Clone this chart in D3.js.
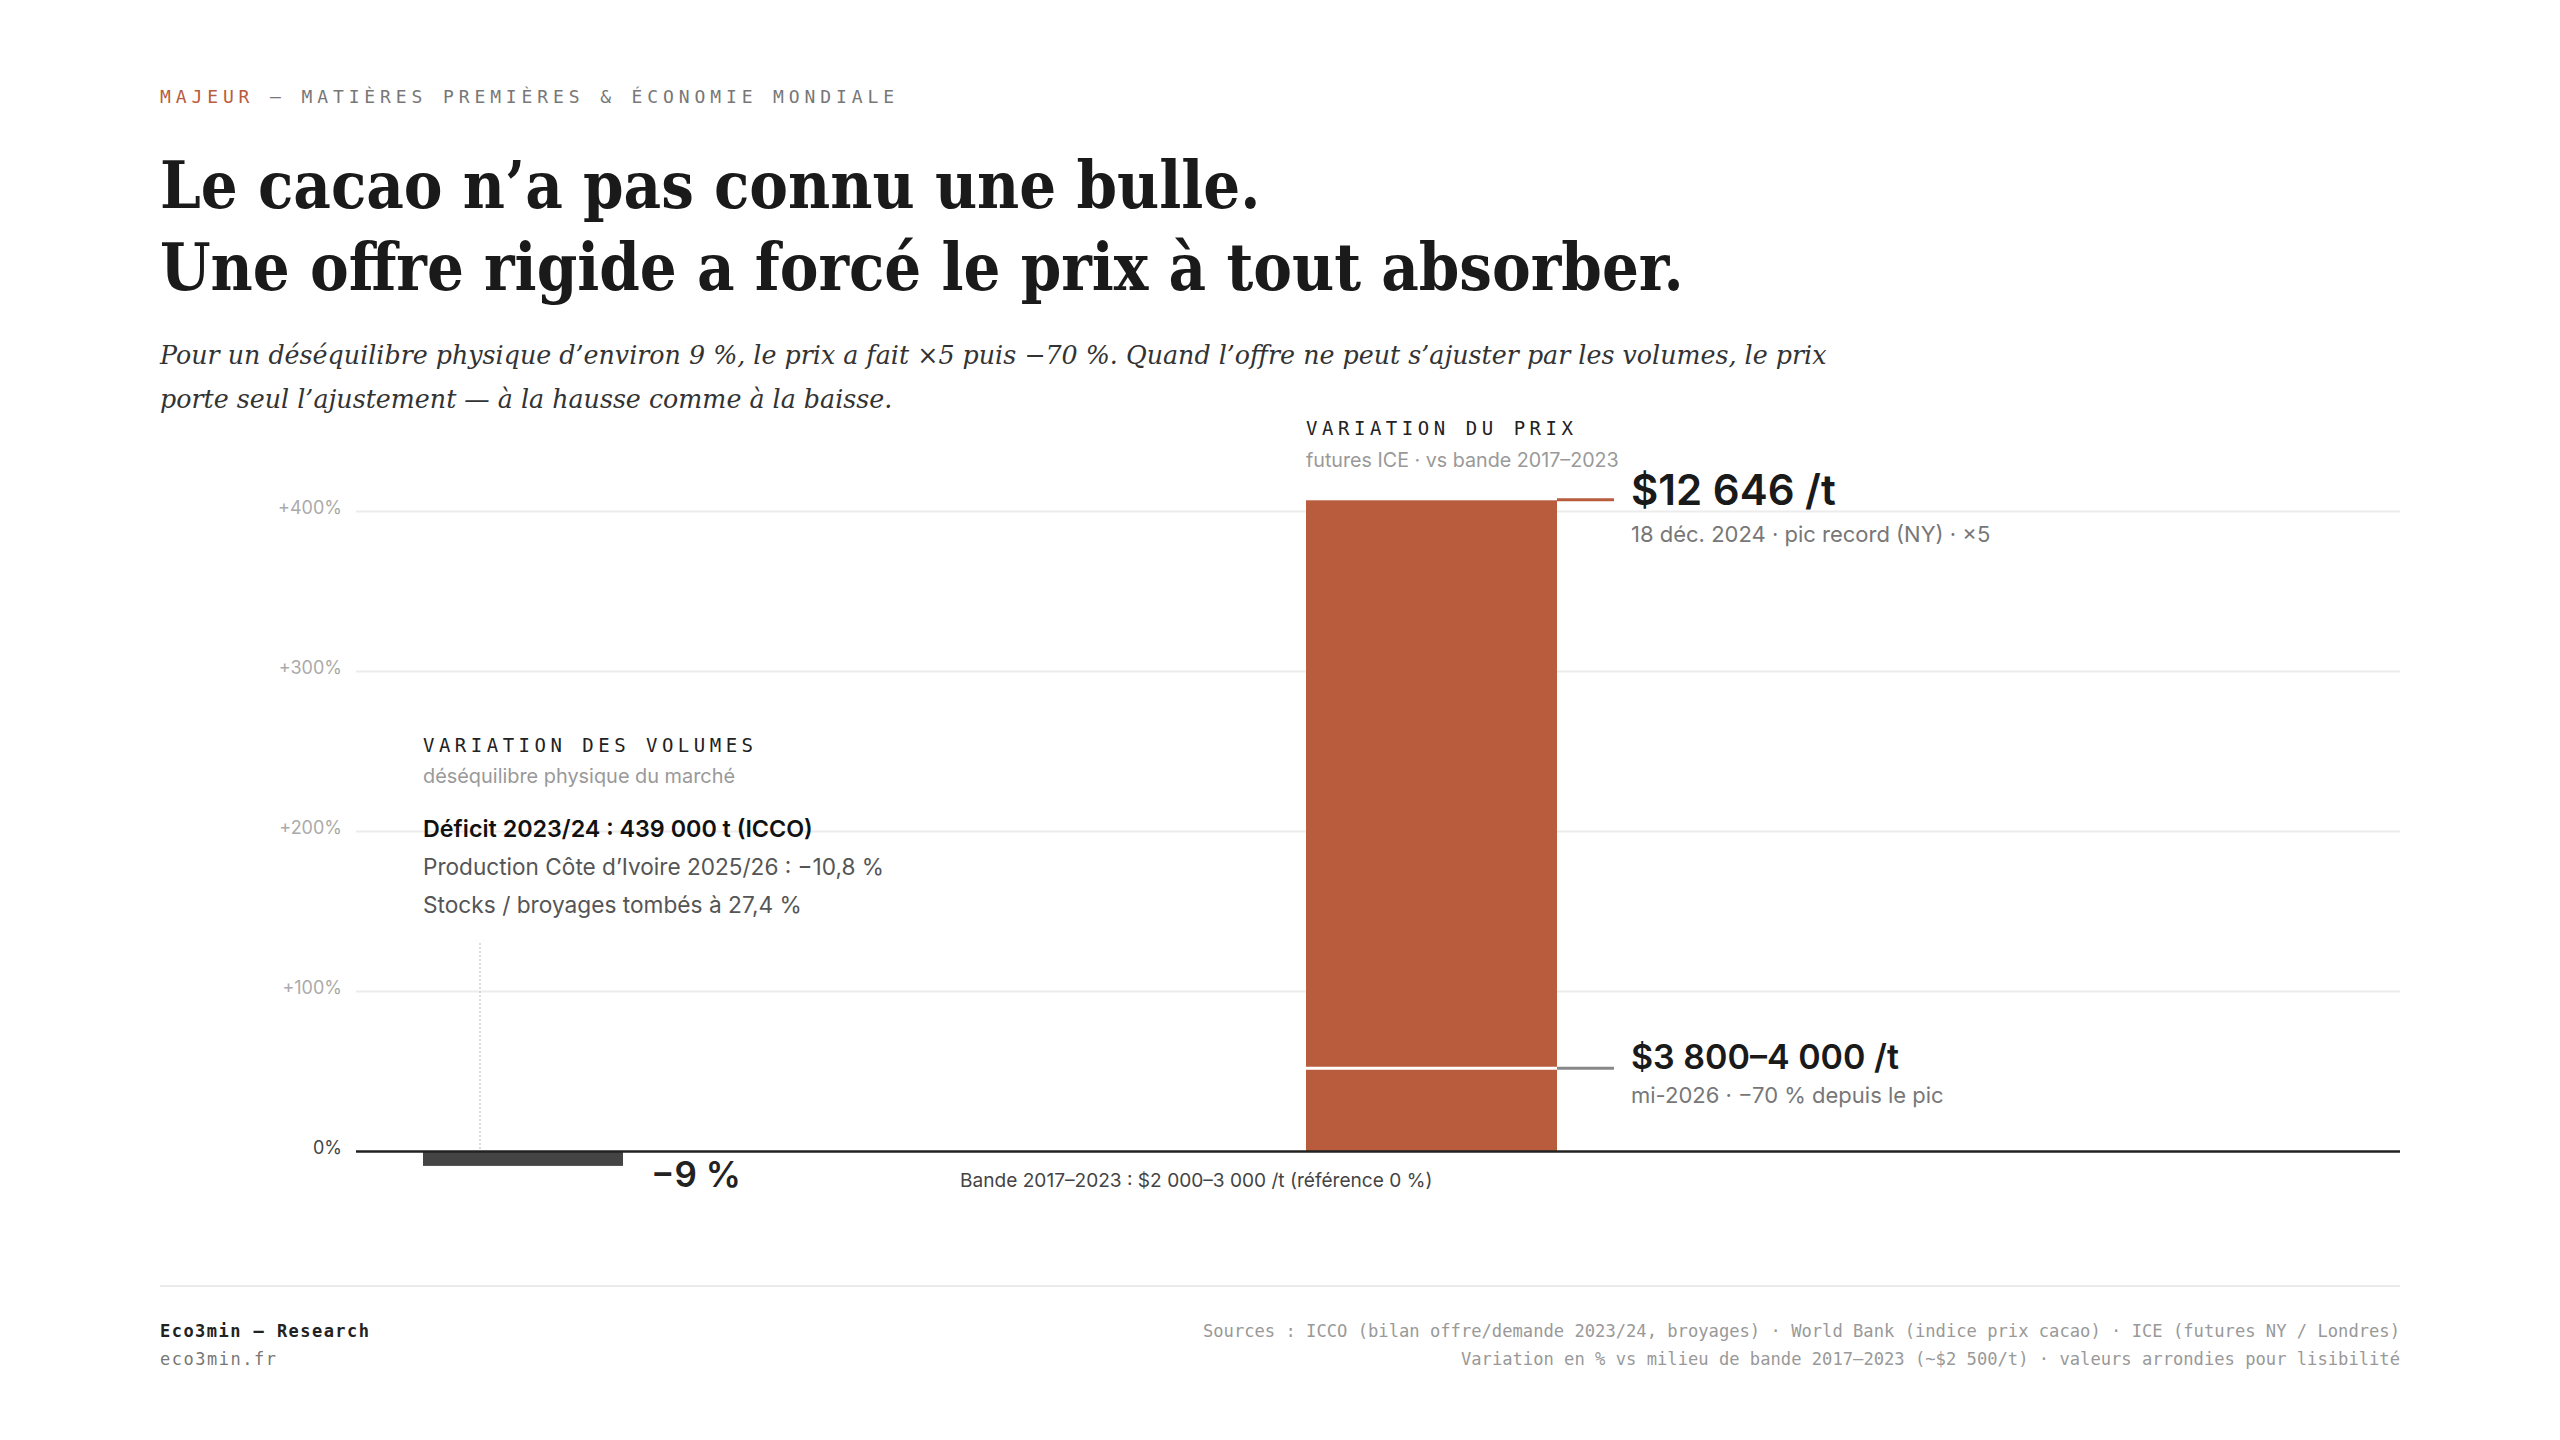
<!DOCTYPE html>
<html>
<head>
<meta charset="utf-8">
<script src="https://cdn.jsdelivr.net/npm/d3@7"></script>
<style>
  html, body { margin: 0; padding: 0; background: #ffffff; }
  svg { display: block; }
</style>
</head>
<body>
<svg id="chart" width="2560" height="1440"></svg>
<script>
// ---------- DATA ----------
const categories = ["volumes", "prix"];
const values = [-9, 407];            // % vs milieu de bande 2017–2023
const afterFall = [52];              // niveau mi-2026 (% vs bande)
const yTicks = [0, 100, 200, 300, 400];
const tickLabels = ["0%", "+100%", "+200%", "+300%", "+400%"];

const kicker = ["MAJEUR", " — MATIÈRES PREMIÈRES & ÉCONOMIE MONDIALE"];
const titleLines = ["Le cacao n’a pas connu une bulle.", "Une offre rigide a forcé le prix à tout absorber."];
const subtitleLines = [
  "Pour un déséquilibre physique d’environ 9 %, le prix a fait ×5 puis −70 %. Quand l’offre ne peut s’ajuster par les volumes, le prix",
  "porte seul l’ajustement — à la hausse comme à la baisse."
];
const volHead = ["VARIATION DES VOLUMES", "déséquilibre physique du marché"];
const volNotes = ["Déficit 2023/24 : 439 000 t (ICCO)", "Production Côte d’Ivoire 2025/26 : −10,8 %", "Stocks / broyages tombés à 27,4 %"];
const volLabel = "−9 %";
const priceHead = ["VARIATION DU PRIX", "futures ICE · vs bande 2017–2023"];
const peakLabel = ["$12 646 /t", "18 déc. 2024 · pic record (NY) · ×5"];
const lowLabel = ["$3 800–4 000 /t", "mi-2026 · −70 % depuis le pic"];
const bandNote = "Bande 2017–2023 : $2 000–3 000 /t (référence 0 %)";
const footLeft = ["Eco3min — Research", "eco3min.fr"];
const footRight = [
  "Sources : ICCO (bilan offre/demande 2023/24, broyages) · World Bank (indice prix cacao) · ICE (futures NY / Londres)",
  "Variation en % vs milieu de bande 2017–2023 (~$2 500/t) · valeurs arrondies pour lisibilité"
];

// ---------- LAYOUT ----------
const ORANGE = "#B95C3D";
const SANS = "Inter, 'Noto Sans', sans-serif";
const SERIF = "'DejaVu Serif', serif";
const TITLE_SERIF = "'DejaVu Serif Condensed', 'DejaVu Serif', serif";
const MONO = "'DejaVu Sans Mono', 'Liberation Mono', monospace";
const L = 160, R = 2400, plotL = 356;

const svg = d3.select("#chart");
svg.append("rect").attr("width", 2560).attr("height", 1440).attr("fill", "#fff");

function fitSize(sel, target) {
  const w = sel.node().getComputedTextLength();
  const fs = parseFloat(sel.attr("font-size"));
  const nfs = fs * target / w;
  sel.attr("font-size", nfs);
  return nfs;
}
function fitSpacing(sel, target) {
  sel.attr("letter-spacing", 0);
  const w = sel.node().getComputedTextLength();
  const n = sel.text().length;
  sel.attr("letter-spacing", (target - w) / (n - 1));
}

// Kicker
const k = svg.append("text").attr("x", L).attr("y", 103)
  .attr("font-family", MONO).attr("font-size", 18).attr("fill", "#777");
k.append("tspan").attr("fill", ORANGE).text(kicker[0]);
k.append("tspan").text(kicker[1]);
fitSpacing(k, 734);

// Title
const t2 = svg.append("text").attr("x", L).attr("y", 290)
  .attr("font-family", TITLE_SERIF).attr("font-weight", 700).attr("font-size", 60)
  .attr("fill", "#1a1a1a").text(titleLines[1]);
const tfs = fitSize(t2, 1524);
svg.append("text").attr("x", L).attr("y", 208)
  .attr("font-family", TITLE_SERIF).attr("font-weight", 700).attr("font-size", tfs)
  .attr("fill", "#1a1a1a").text(titleLines[0]);

// Subtitle
const s1 = svg.append("text").attr("x", L).attr("y", 364)
  .attr("font-family", SERIF).attr("font-style", "italic").attr("font-size", 24)
  .attr("fill", "#333").text(subtitleLines[0]);
const sfs = fitSize(s1, 1667);
svg.append("text").attr("x", L).attr("y", 408)
  .attr("font-family", SERIF).attr("font-style", "italic").attr("font-size", sfs)
  .attr("fill", "#333").text(subtitleLines[1]);

// ---------- SCALES ----------
const y = d3.scaleLinear().domain([0, 400]).range([1151.5, 511.5]);
const xLeft = d3.scalePoint().domain(categories).range([423, 1306]);
const barW = { volumes: 200, prix: 251 };
const barFill = { volumes: "#444444", prix: ORANGE };

// Grid
const grid = svg.append("g");
grid.selectAll("line").data(yTicks.filter(d => d !== 0)).join("line")
  .attr("x1", plotL).attr("x2", R)
  .attr("y1", d => y(d)).attr("y2", d => y(d))
  .attr("stroke", "#ececec").attr("stroke-width", 2);

// Y axis labels
const yAxis = d3.axisLeft(y).tickValues(yTicks).tickSize(0).tickPadding(0)
  .tickFormat((d, i) => tickLabels[i]);
const ga = svg.append("g").attr("transform", `translate(342,0)`).call(yAxis);
ga.select(".domain").remove();
ga.selectAll("text")
  .attr("font-family", SANS).attr("font-size", 18)
  .attr("fill", d => d === 0 ? "#444" : "#aaa")
  .attr("dy", "0.1em");

// Volume leader (dotted)
const volX = xLeft("volumes") + 57;
svg.append("line").attr("x1", volX).attr("x2", volX)
  .attr("y1", 943).attr("y2", y(0))
  .attr("stroke", "#c8c8c8").attr("stroke-width", 1.3).attr("stroke-dasharray", "2,2");

// Bars
const data = categories.map((c, i) => ({ c, v: values[i] }));
svg.append("g").selectAll("rect").data(data).join("rect")
  .attr("x", d => xLeft(d.c))
  .attr("width", d => barW[d.c])
  .attr("y", d => y(Math.max(0, d.v)))
  .attr("height", d => Math.abs(y(d.v) - y(0)))
  .attr("fill", d => barFill[d.c]);

// Price bar after-fall marker
const px0 = xLeft("prix"), px1 = xLeft("prix") + barW.prix;
svg.append("line").attr("x1", px0).attr("x2", px1)
  .attr("y1", y(afterFall[0])).attr("y2", y(afterFall[0]))
  .attr("stroke", "#fff").attr("stroke-width", 3);
svg.append("line").attr("x1", px1).attr("x2", px1 + 57)
  .attr("y1", y(afterFall[0])).attr("y2", y(afterFall[0]))
  .attr("stroke", "#888").attr("stroke-width", 3);
// Peak connector
svg.append("line").attr("x1", px1).attr("x2", px1 + 57)
  .attr("y1", y(values[1]) - 0.5).attr("y2", y(values[1]) - 0.5)
  .attr("stroke", ORANGE).attr("stroke-width", 3);

// Zero axis
svg.append("line").attr("x1", plotL).attr("x2", R)
  .attr("y1", y(0)).attr("y2", y(0))
  .attr("stroke", "#222").attr("stroke-width", 2.5);

// ---------- ANNOTATIONS ----------
const vx = xLeft("volumes");
const vh = svg.append("text").attr("x", vx).attr("y", 752)
  .attr("font-family", MONO).attr("font-size", 19).attr("fill", "#222").text(volHead[0]);
fitSpacing(vh, 330);
svg.append("text").attr("x", vx).attr("y", 783)
  .attr("font-family", SANS).attr("font-size", 19.9).attr("fill", "#999").text(volHead[1]);
const noteSizes = [23.3, 22.6, 22.7];
svg.selectAll(".vnote").data(volNotes).join("text").attr("class", "vnote")
  .attr("x", vx).attr("y", (d, i) => 837 + i * 38)
  .attr("font-family", SANS).attr("font-size", (d, i) => noteSizes[i])
  .attr("font-weight", (d, i) => i === 0 ? 600 : 400)
  .attr("fill", (d, i) => i === 0 ? "#111" : "#555")
  .text(d => d);
svg.append("text").attr("x", vx + barW.volumes + 28).attr("y", y(values[0]) + 21)
  .attr("font-family", SANS).attr("font-size", 35).attr("font-weight", 600)
  .attr("fill", "#222").text(volLabel);

const ph = svg.append("text").attr("x", px0).attr("y", 435)
  .attr("font-family", MONO).attr("font-size", 19).attr("fill", "#222").text(priceHead[0]);
fitSpacing(ph, 267);
svg.append("text").attr("x", px0).attr("y", 467)
  .attr("font-family", SANS).attr("font-size", 19.7).attr("fill", "#999").text(priceHead[1]);

const lx = px1 + 74;
svg.append("text").attr("x", lx).attr("y", y(values[1]) + 5)
  .attr("font-family", SANS).attr("font-size", 42).attr("font-weight", 600)
  .attr("fill", "#1a1a1a").text(peakLabel[0]);
svg.append("text").attr("x", lx).attr("y", y(values[1]) + 42)
  .attr("font-family", SANS).attr("font-size", 22).attr("fill", "#777").text(peakLabel[1]);
svg.append("text").attr("x", lx).attr("y", y(afterFall[0]) + 0.5)
  .attr("font-family", SANS).attr("font-size", 34).attr("font-weight", 600)
  .attr("fill", "#1a1a1a").text(lowLabel[0]);
svg.append("text").attr("x", lx).attr("y", y(afterFall[0]) + 35)
  .attr("font-family", SANS).attr("font-size", 22).attr("fill", "#777").text(lowLabel[1]);

svg.append("text").attr("x", 960).attr("y", y(0) + 35)
  .attr("font-family", SANS).attr("font-size", 19.1).attr("fill", "#444").text(bandNote);

// ---------- FOOTER ----------
svg.append("line").attr("x1", L).attr("x2", R).attr("y1", 1286).attr("y2", 1286)
  .attr("stroke", "#ebebeb").attr("stroke-width", 2);
const f1 = svg.append("text").attr("x", L).attr("y", 1337)
  .attr("font-family", MONO).attr("font-size", 17).attr("font-weight", 700)
  .attr("fill", "#222").text(footLeft[0]);
fitSpacing(f1, 209);
const f2 = svg.append("text").attr("x", L).attr("y", 1365)
  .attr("font-family", MONO).attr("font-size", 17).attr("fill", "#777").text(footLeft[1]);
fitSpacing(f2, 116);
const r1 = svg.append("text").attr("x", R).attr("y", 1337).attr("text-anchor", "end")
  .attr("font-family", MONO).attr("font-size", 17).attr("fill", "#999").text(footRight[0]);
const rfs = fitSize(r1, 1198);
svg.append("text").attr("x", R).attr("y", 1365).attr("text-anchor", "end")
  .attr("font-family", MONO).attr("font-size", rfs).attr("fill", "#999").text(footRight[1]);
</script>
</body>
</html>
